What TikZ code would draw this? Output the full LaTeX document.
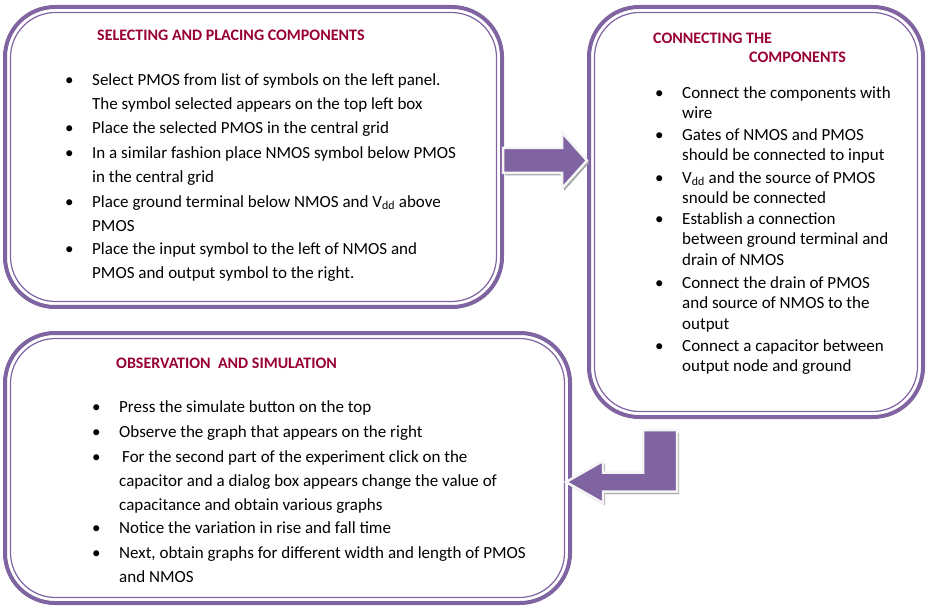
\documentclass[tikz,border=0pt]{standalone}
\usepackage{fontspec}
\setmainfont{Carlito}
\usepackage{xcolor}
\usepackage{tikz}
\usetikzlibrary{calc,shadows}

\definecolor{panelpurple}{RGB}{128,100,162}
\definecolor{headred}{RGB}{153,0,51}
\newcommand\bul{\strut\llap{\makebox[27pt][l]{\textbullet}}}

\begin{document}
\begin{tikzpicture}[x=1pt, y=-1pt,
		panel/.style={draw=panelpurple, line width=4pt, rounded corners=50pt,
				inner sep=0pt, outer sep=0pt},
		inset/.style={draw=panelpurple, line width=1.2pt, rounded corners=45pt},
		head/.style={font=\fontsize{16}{19}\selectfont\bfseries, text=headred,
				anchor=north west, yshift=13.3pt, inner sep=0pt, align=left},
		item/.style={font=\fontsize{17}{24.3}\selectfont, anchor=north west,
				yshift=17.01pt, inner sep=0pt, align=left},
		itemsmall/.style={font=\fontsize{17}{20.7}\selectfont, anchor=north west,
				yshift=14.49pt, inner sep=0pt, align=left},
		blockarrow/.style={fill=panelpurple, draw=gray!8, line width=2.5pt,
				drop shadow={shadow xshift=2pt, shadow yshift=-2.5pt, fill=gray!70, opacity=1}}]

		\useasboundingbox (0,0) rectangle (936,609);

		% ── panels ──
		\node[panel, minimum width=497, minimum height=300] (select) at (253.5,157) {};
		\draw[inset] ([shift={(5.5,5.5)}]select.north west) rectangle ([shift={(-5.5,-5.5)}]select.south east);

		\node[panel, minimum width=334, minimum height=410] (connect) at (756,212) {};
		\draw[inset] ([shift={(5.5,5.5)}]connect.north west) rectangle ([shift={(-5.5,-5.5)}]connect.south east);

		\node[panel, minimum width=565, minimum height=270] (observe) at (287.5,468) {};
		\draw[inset] ([shift={(5.5,5.5)}]observe.north west) rectangle ([shift={(-5.5,-5.5)}]observe.south east);

		% ── selecting and placing ──
		\node[head] (selhead) at (97,40) {\strut SELECTING AND PLACING COMPONENTS};
		\node[item] (sel1) at (92,85) {\bul Select PMOS from list of symbols on the left panel.\\ The symbol selected appears on the top left box};
		\node[item] (sel2) at (92,133) {\bul Place the selected PMOS in the central grid};
		\node[item] (sel3) at (92,158) {\bul In a similar fashion place NMOS symbol below PMOS\\ in the central grid};
		\node[item] (sel4) at (92,207) {\bul Place ground terminal below NMOS and V\textsubscript{dd} above\\ PMOS};
		\node[item] (sel5) at (92,254) {\bul Place the input symbol to the left of NMOS and\\ PMOS and output symbol to the right.};

		% ── connecting ──
		\node[head] (conhead) at (653,43) {\strut CONNECTING THE\\ \hspace*{96pt}COMPONENTS};
		\node[itemsmall] (con1) at (682,98) {\bul Connect the components with\\ wire};
		\node[itemsmall] (con2) at (682,140) {\bul Gates of NMOS and PMOS\\ should be connected to input};
		\node[itemsmall] (con3) at (682,183) {\bul V\textsubscript{dd} and the source of PMOS\\ snould be connected};
		\node[itemsmall] (con4) at (682,224) {\bul Establish a connection\\ between ground terminal and\\ drain of NMOS};
		\node[itemsmall] (con5) at (682,288) {\bul Connect the drain of PMOS\\ and source of NMOS to the\\ output};
		\node[itemsmall] (con6) at (682,351) {\bul Connect a capacitor between\\ output node and ground};

		% ── observation ──
		\node[head] (obshead) at (116,368) {\strut OBSERVATION\ \ AND SIMULATION};
		\node[item] (obs1) at (119,412) {\bul Press the simulate button on the top};
		\node[item] (obs2) at (119,437) {\bul Observe the graph that appears on the right};
		\node[item] (obs3) at (119,462) {\bul \hspace*{3pt}For the second part of the experiment click on the\\ capacitor and a dialog box appears change the value of\\ capacitance and obtain various graphs};
		\node[item] (obs4) at (119,533) {\bul Notice the variation in rise and fall time};
		\node[item] (obs5) at (119,558) {\bul Next, obtain graphs for different width and length of PMOS\\ and NMOS};

		% ── block arrows ──
		\coordinate (rtail) at ($(select.east)+(1,3.5)$);
		\coordinate (rtip) at ($(connect.west |- rtail)+(-2,0)$);
		\draw[blockarrow] ($(rtail)+(0,-12.5)$) -- ($(rtip)+(-25,-12.5)$) -- ($(rtip)+(-25,-28)$)
			-- (rtip) -- ($(rtip)+(-25,28)$) -- ($(rtip)+(-25,12.5)$) -- ($(rtail)+(0,12.5)$) -- cycle;

		\coordinate (btop) at ($(connect.south)+(-96,13)$);
		\coordinate (btip) at ($(observe.east)+(-4,14)$);
		\draw[blockarrow] ($(btop)+(-17,0)$) -- ($(btop)+(17,0)$) -- ($(btop |- btip)+(17,9.5)$)
			-- ($(btip)+(37,9.5)$) -- ($(btip)+(37,21)$) -- (btip) -- ($(btip)+(37,-21)$)
			-- ($(btip)+(37,-9.5)$) -- ($(btop |- btip)+(-17,-9.5)$) -- cycle;

	\end{tikzpicture}
\end{document}
